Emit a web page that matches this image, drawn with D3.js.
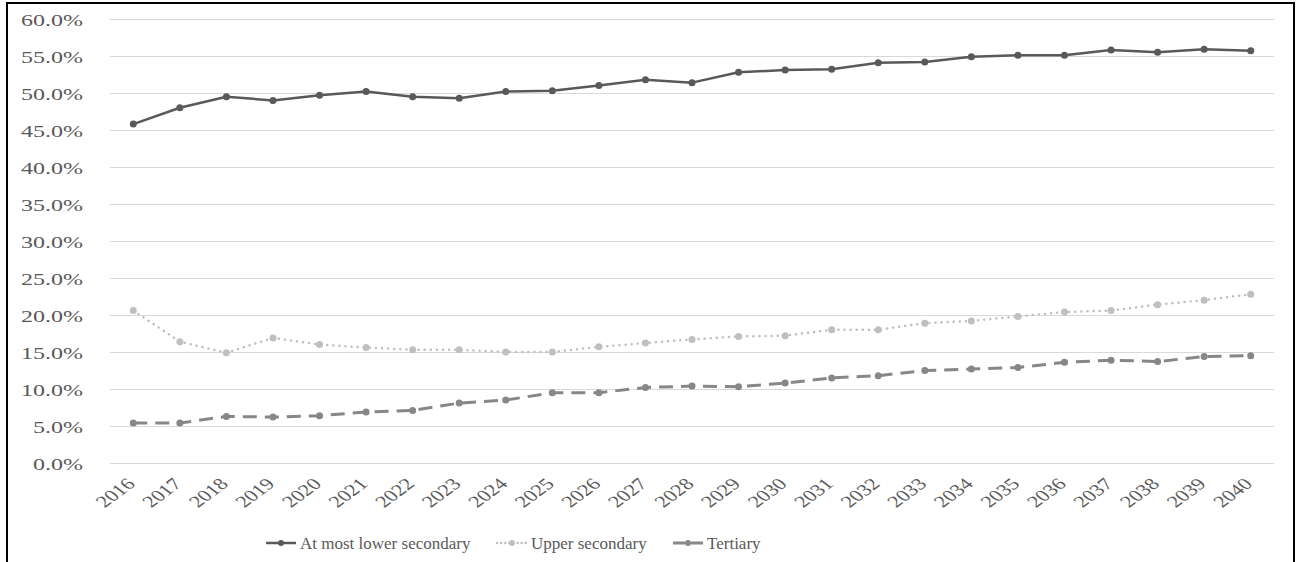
<!DOCTYPE html>
<html>
<meta charset="utf-8">
<style>
body {
	margin: 0;
	background: #fff;
}
.grid line {
	stroke: #d9d9d9;
	shape-rendering: crispEdges;
}
.tick text {
	font-family: "Liberation Serif", "Times New Roman", serif;
	fill: #595959;
}
.legend text {
	font-family: "Liberation Serif", "Times New Roman", serif;
	font-size: 17px;
	fill: #595959;
}
</style>
<body>
<script src="https://d3js.org/d3.v7.min.js"></script>
<script>
var years = ["2016","2017","2018","2019","2020","2021","2022","2023","2024","2025","2026","2027","2028",
             "2029","2030","2031","2032","2033","2034","2035","2036","2037","2038","2039","2040"];

var lowerSecondary = [45.8, 48.0, 49.5, 49.0, 49.7, 50.2, 49.5, 49.3, 50.2, 50.3, 51.0, 51.8, 51.4,
                      52.8, 53.1, 53.2, 54.1, 54.2, 54.9, 55.1, 55.1, 55.8, 55.5, 55.9, 55.7];
var upperSecondary = [20.6, 16.4, 14.9, 16.9, 16.0, 15.6, 15.3, 15.3, 15.0, 15.0, 15.7, 16.2, 16.7,
                      17.1, 17.2, 18.0, 18.0, 18.9, 19.2, 19.8, 20.4, 20.6, 21.4, 22.0, 22.8];
var tertiary = [5.4, 5.4, 6.3, 6.2, 6.4, 6.9, 7.1, 8.1, 8.5, 9.5, 9.5, 10.2, 10.4,
                10.3, 10.8, 11.5, 11.8, 12.5, 12.7, 12.9, 13.6, 13.9, 13.7, 14.4, 14.5];
var yTicks = [0, 5, 10, 15, 20, 25, 30, 35, 40, 45, 50, 55, 60];
var seriesNames = ["At most lower secondary", "Upper secondary", "Tertiary"];

var W = 1303, H = 562;
var plotLeft = 110, plotRight = 1274, plotTop = 19, plotBottom = 463;

var svg = d3.select("body").append("svg")
    .attr("width", W)
    .attr("height", H);

// outer frame
svg.append("rect")
    .attr("x", 7).attr("y", 3)
    .attr("width", 1287).attr("height", 600)
    .attr("fill", "none")
    .attr("stroke", "#000")
    .attr("stroke-width", 2);

var x = d3.scaleBand().domain(years).range([plotLeft, plotRight]);
var y = d3.scaleLinear().domain([0, 60]).range([plotBottom, plotTop]);

// gridlines
svg.append("g")
    .attr("class", "grid")
    .selectAll("line")
    .data(yTicks)
  .enter().append("line")
    .attr("x1", plotLeft).attr("x2", plotRight)
    .attr("y1", function(d) { return Math.round(y(d)) + 0.5; })
    .attr("y2", function(d) { return Math.round(y(d)) + 0.5; });

// y axis labels (text is stretched sideways in the original)
var yAxis = svg.append("g")
    .attr("transform", "translate(" + plotLeft + ",0)")
    .call(d3.axisLeft(y).tickValues(yTicks).tickSize(0).tickPadding(0)
        .tickFormat(function(d) { return d.toFixed(1) + "%"; }));
yAxis.select(".domain").remove();
yAxis.selectAll("text")
    .attr("x", null).attr("dy", null)
    .style("font-size", "16px")
    .attr("text-anchor", "end")
    .attr("transform", "translate(-27,6.5) scale(1.5,1)");

// x axis labels
var xAxis = svg.append("g")
    .attr("transform", "translate(0," + plotBottom + ")")
    .call(d3.axisBottom(x).tickSize(0).tickPadding(0));
xAxis.select(".domain").remove();
xAxis.selectAll("text")
    .attr("y", null).attr("dy", null)
    .style("font-size", "16.5px")
    .attr("text-anchor", "end")
    .attr("transform", "translate(3,22) scale(1.35,1) rotate(-45)");

var series = [
  {name: seriesNames[0], values: lowerSecondary, color: "#595959", width: 2.5, dash: null, cap: "butt", r: 3.5},
  {name: seriesNames[1], values: upperSecondary, color: "#bfbfbf", width: 2.5, dash: "0.1 6", cap: "round", r: 3.5},
  {name: seriesNames[2], values: tertiary, color: "#878787", width: 3, dash: "14 8", cap: "butt", r: 3.5}
];

var line = d3.line()
    .x(function(d, i) { return x(years[i]) + x.bandwidth() / 2; })
    .y(function(d) { return y(d); });

series.forEach(function(s) {
  svg.append("path")
      .datum(s.values)
      .attr("fill", "none")
      .attr("stroke", s.color)
      .attr("stroke-width", s.width)
      .attr("stroke-dasharray", s.dash)
      .attr("stroke-linecap", s.cap)
      .attr("stroke-linejoin", "round")
      .attr("d", line);
  svg.append("g").selectAll("circle")
      .data(s.values)
    .enter().append("circle")
      .attr("cx", function(d, i) { return x(years[i]) + x.bandwidth() / 2; })
      .attr("cy", function(d) { return y(d); })
      .attr("r", s.r)
      .attr("fill", s.color);
});

// legend
var legendX = [266, 497, 673];
var legend = svg.selectAll(".legend")
    .data(series)
  .enter().append("g")
    .attr("class", "legend")
    .attr("transform", function(d, i) { return "translate(" + legendX[i] + ",543)"; });

legend.append("line")
    .attr("x1", 0).attr("x2", 30)
    .attr("stroke", function(d) { return d.color; })
    .attr("stroke-width", function(d) { return d.width; })
    .attr("stroke-dasharray", function(d) { return d.dash ? (d.cap == "round" ? "0.1 4" : "12 6") : null; })
    .attr("stroke-linecap", function(d) { return d.cap; });
legend.append("circle")
    .attr("cx", 15)
    .attr("r", 3)
    .attr("fill", function(d) { return d.color; });
legend.append("text")
    .attr("x", 34)
    .attr("y", 6)
    .text(function(d) { return d.name; });
</script>
</body>
</html>
